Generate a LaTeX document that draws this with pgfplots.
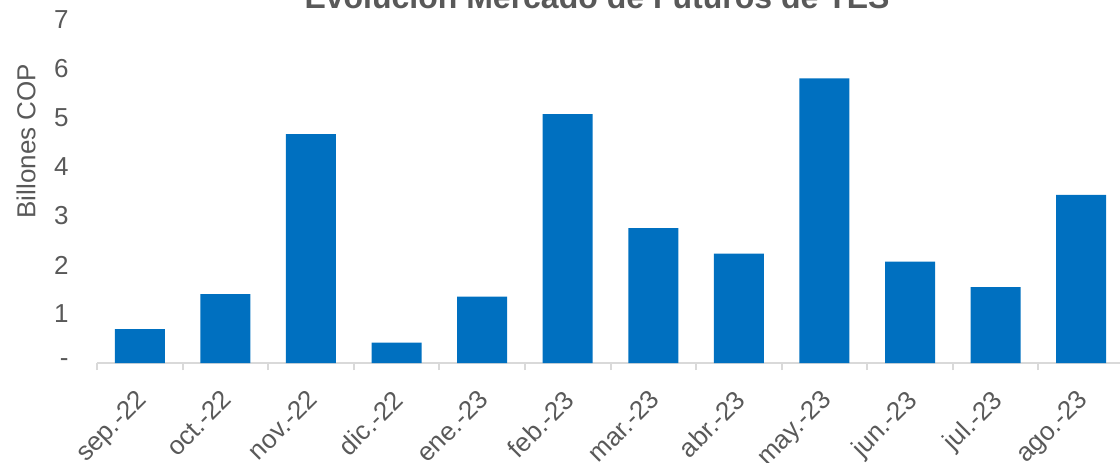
\documentclass[border=0pt]{standalone}
\usepackage{fontspec}
\setmainfont{Liberation Sans}
\usepackage{pgfplots}
\pgfplotsset{compat=1.18}
\definecolor{barblue}{HTML}{0070C0}
\definecolor{txtgray}{HTML}{595959}
\definecolor{axgray}{HTML}{D9D9D9}
\begin{document}
\begin{tikzpicture}
\useasboundingbox (-48.5pt,-49.5pt) rectangle (511.5pt,181.5pt);
\clip (-48.5pt,-49.5pt) rectangle (511.5pt,181.5pt);
\begin{axis}[
  scale only axis, width=513.5pt, height=171.5pt,
  xmin=-0.5, xmax=11.5, ymin=0, ymax=7,
  axis x line*=bottom, axis y line*=left,
  y axis line style={draw=none},
  x axis line style={draw=axgray, line width=1pt, -},
  /pgf/number format/assume math mode=true,
  ytick={0,...,7}, yticklabels={-,1,2,3,4,5,6,7},
  ytick style={draw=none},
  yticklabel style={font=\fontsize{13}{15}\selectfont, text=txtgray, inner sep=0pt, anchor=east, xshift=-14pt},
  xtick={0,...,11},
  xticklabels={sep.-22,oct.-22,nov.-22,dic.-22,ene.-23,feb.-23,mar.-23,abr.-23,may.-23,jun.-23,jul.-23,ago.-23},
  major x tick style={draw=none},
  major tick length=0pt,
  minor xtick={-0.5,0.5,...,11.5},
  minor x tick style={draw=axgray, line width=1pt},
  minor tick length=3.5pt,
  tick align=outside,
  xticklabel style={font=\fontsize{13}{15}\selectfont, text=txtgray, inner sep=0pt, anchor=north east, xshift=-2.5pt, yshift=-12.5pt, rotate=45},
  ylabel={Billones COP},
  ylabel style={at={(axis description cs:-0.0691,0.647)}, anchor=center, font=\fontsize{13}{15}\selectfont, text=txtgray},
  clip=false,
]
\addplot[ybar, bar width=25pt, fill=barblue, draw=none] coordinates {
  (0,0.694) (1,1.408) (2,4.673) (3,0.414) (4,1.353) (5,5.08)
  (6,2.755) (7,2.23) (8,5.81) (9,2.067) (10,1.55) (11,3.43)
};
\end{axis}
\node[anchor=base, text=txtgray, font=\bfseries\fontsize{16}{19}\selectfont] at (250pt,177.5pt) {Evolución Mercado de Futuros de TES};
\end{tikzpicture}
\end{document}
